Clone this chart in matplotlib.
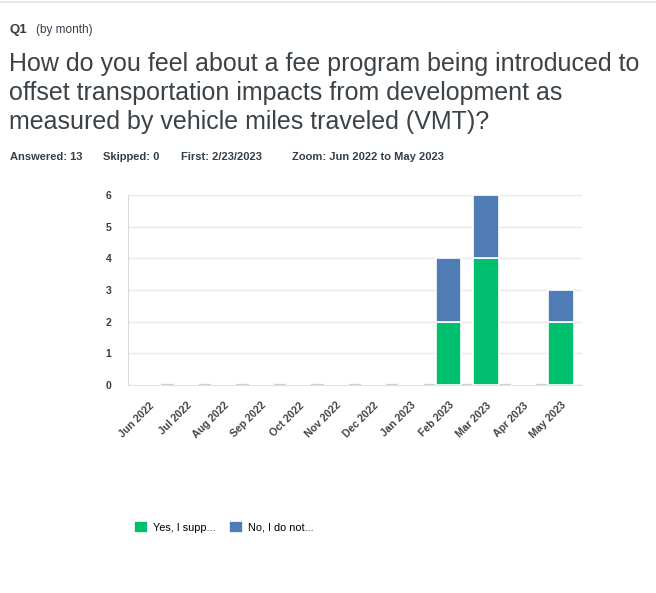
import numpy as np
import matplotlib
matplotlib.use('Agg')
import matplotlib.pyplot as plt
from matplotlib.lines import Line2D

# monthly response counts
months = ['Jun 2022', 'Jul 2022', 'Aug 2022', 'Sep 2022', 'Oct 2022', 'Nov 2022',
          'Dec 2022', 'Jan 2023', 'Feb 2023', 'Mar 2023', 'Apr 2023', 'May 2023']
yes_counts = [0, 0, 0, 0, 0, 0, 0, 0, 2, 4, 0, 2]
no_counts = [0, 0, 0, 0, 0, 0, 0, 0, 2, 2, 0, 1]
series_names = ['Yes, I supp...', 'No, I do not...']
yticks = [0, 1, 2, 3, 4, 5, 6]

question_lines = ['How do you feel about a fee program being introduced to',
                  'offset transportation impacts from development as',
                  'measured by vehicle miles traveled (VMT)?']
stats = ['Answered: 13', 'Skipped: 0', 'First: 2/23/2023', 'Zoom: Jun 2022 to May 2023']

GREEN = '#00BF6F'
BLUE = '#507CB6'
TXT = '#333e48'

plt.rcParams['font.family'] = ['Liberation Sans', 'DejaVu Sans']

W, H = 656, 593
fig = plt.figure(figsize=(W / 100, H / 100), dpi=100)

def fx(px):
    return px / W

def fy(py):
    return 1 - py / H

# thin rule across the top
fig.add_artist(Line2D([0, 1], [fy(2), fy(2)], color='#e4e4e4', lw=1.2))

fig.text(fx(9), fy(33), 'Q1', fontsize=9.5, fontweight='bold', color=TXT)
fig.text(fx(36), fy(33), '(by month)', fontsize=8.5, color=TXT)

for i, line in enumerate(question_lines):
    fig.text(fx(9), fy(71 + 29 * i), line, fontsize=18, color='#3b4248')

stat_x = [10, 103, 181, 292]
for x, s in zip(stat_x, stats):
    fig.text(fx(x), fy(160), s, fontsize=8, fontweight='bold', color=TXT)

ax = fig.add_axes([fx(128), fy(385), fx(582) - fx(128), (385 - 195) / H])
x = np.arange(len(months))
width = 0.67
ax.bar(x, yes_counts, width, color=GREEN, edgecolor='white', linewidth=1.2,
       label=series_names[0], zorder=3)
ax.bar(x, no_counts, width, bottom=yes_counts, color=BLUE, edgecolor='white',
       linewidth=1.2, label=series_names[1], zorder=3)

# short baseline marks between months
for b in x[:-1] + 0.5:
    ax.plot([b - 0.2, b + 0.2], [0, 0], color='#cfcfcf', lw=1.6, zorder=2,
            solid_capstyle='butt')

ax.set_xlim(-0.55, 11.56)
ax.set_ylim(0, 6)
ax.set_yticks(yticks)
ax.set_yticklabels([str(v) for v in yticks], fontsize=7.5, fontweight='bold', color=TXT)
ax.yaxis.grid(True, color='#e8e8e8', lw=1, zorder=0)
ax.set_xticks(x)
ax.set_xticklabels(months, rotation=45, ha='right', rotation_mode='anchor',
                   fontsize=7.6, fontweight='bold', color='#444')
ax.tick_params(axis='both', length=0)
ax.tick_params(axis='y', pad=12)
ax.tick_params(axis='x', pad=11)
for side in ['top', 'right']:
    ax.spines[side].set_visible(False)
ax.spines['left'].set_color('#dcdcdc')
ax.spines['bottom'].set_color('#e2e2e2')

# legend sits well below the chart
handles, labels = ax.get_legend_handles_labels()
fig.legend(handles, labels, loc='center left', bbox_to_anchor=(fx(124), fy(527)),
           ncol=2, frameon=False, fontsize=7.8, handlelength=1.3, handleheight=1.3,
           handletextpad=0.5, columnspacing=1.2)

fig.savefig('out.png', dpi=100)
